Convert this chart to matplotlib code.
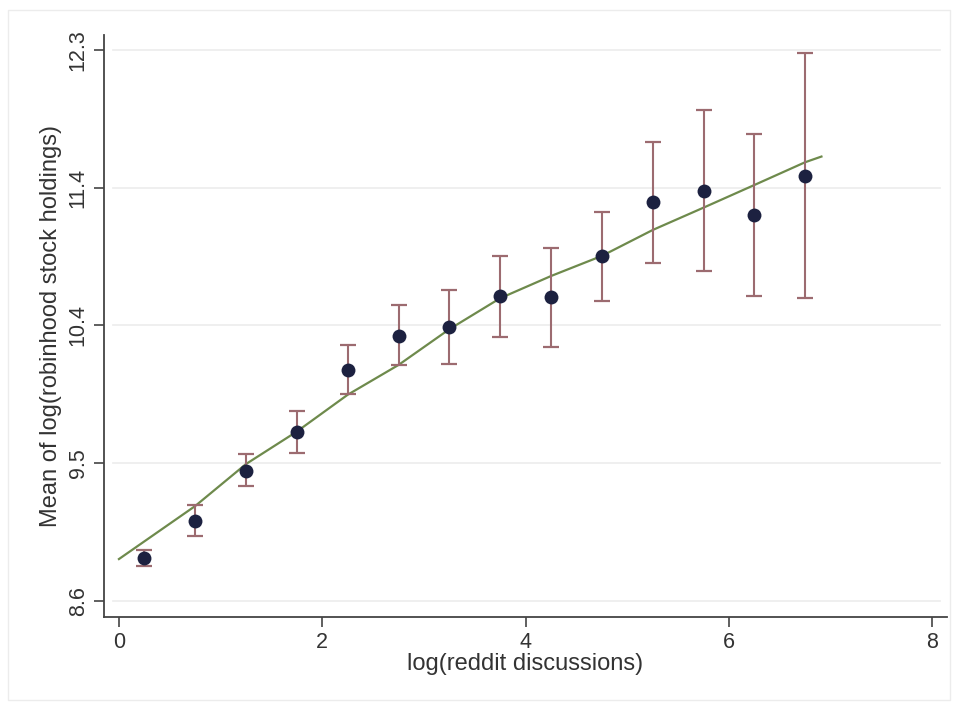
import matplotlib
matplotlib.use("Agg")
import matplotlib.pyplot as plt
from matplotlib.patches import Rectangle

plt.rcParams['font.family'] = ['Liberation Sans', 'DejaVu Sans']

# Binned means with confidence intervals
bin_x = [0.25, 0.75, 1.25, 1.75, 2.25, 2.75, 3.25, 3.75, 4.25, 4.75, 5.25, 5.75, 6.25, 6.75]
bin_mean = [8.891, 9.139, 9.475, 9.733, 10.151, 10.380, 10.442, 10.648, 10.639, 10.917, 11.277, 11.355, 11.192, 11.456]
ci_low = [8.837, 9.037, 9.372, 9.592, 9.988, 10.185, 10.191, 10.371, 10.308, 10.617, 10.868, 10.818, 10.650, 10.633]
ci_high = [8.943, 9.245, 9.585, 9.876, 10.319, 10.588, 10.688, 10.917, 10.968, 11.212, 11.682, 11.897, 11.736, 12.282]

# Fitted curve
fit_x = [0.0, 0.75, 1.25, 1.75, 2.25, 2.75, 3.25, 3.75, 4.25, 4.75, 5.25, 5.75, 6.25, 6.75, 6.91]
fit_y = [8.882, 9.238, 9.520, 9.738, 9.985, 10.185, 10.425, 10.633, 10.782, 10.917, 11.091, 11.241, 11.393, 11.546, 11.584]

y_ticks = [8.6, 9.525, 10.45, 11.375, 12.3]
y_labels = ["8.6", "9.5", "10.4", "11.4", "12.3"]
x_ticks = [0, 2, 4, 6, 8]
x_labels = ["0", "2", "4", "6", "8"]

W, H = 958, 705
fig = plt.figure(figsize=(W / 100, H / 100), dpi=100)
fig.patch.set_facecolor('white')
fig.patches.append(Rectangle((8 / W, 1 - 700 / H), (950 - 8) / W, (700 - 10) / H,
                             transform=fig.transFigure, fill=False,
                             edgecolor='#ececec', linewidth=1.0))

ax = fig.add_axes([104 / W, 1 - 617 / H, (947 - 104) / W, (617 - 35) / H])
ax.set_xlim(-0.147, 8.145)
ax.set_ylim(8.493, 12.40)

for yt in y_ticks:
    ax.axhline(yt, xmin=0.011, xmax=0.992, color='#ececec', linewidth=1.2, zorder=0)

ax.plot(fit_x, fit_y, color='#6e8a4c', linewidth=1.6, zorder=2)

yerr = [[m - lo for m, lo in zip(bin_mean, ci_low)],
        [hi - m for m, hi in zip(bin_mean, ci_high)]]
ax.errorbar(bin_x, bin_mean, yerr=yerr, fmt='none', ecolor='#9c6b70',
            elinewidth=1.5, capsize=6, capthick=1.6, zorder=3)
ax.plot(bin_x, bin_mean, 'o', color='#1c2140', markersize=10, zorder=4,
        markeredgewidth=0)

ax.set_xticks(x_ticks)
ax.set_xticklabels(x_labels)
ax.set_yticks(y_ticks)
ax.set_yticklabels(y_labels, rotation=90, va='center')

for s in ['top', 'right']:
    ax.spines[s].set_visible(False)
for s in ['left', 'bottom']:
    ax.spines[s].set_color('#444444')
    ax.spines[s].set_linewidth(1.3)

ax.tick_params(axis='both', colors='#444444', length=7, width=1.2,
               labelsize=15.5, labelcolor='#333333', pad=4)
ax.set_xlabel('log(reddit discussions)', fontsize=17, color='#333333', labelpad=0)
ax.set_ylabel('Mean of log(robinhood stock holdings)', fontsize=17, color='#333333', labelpad=4)

fig.savefig('out.png', dpi=100, facecolor='white')
